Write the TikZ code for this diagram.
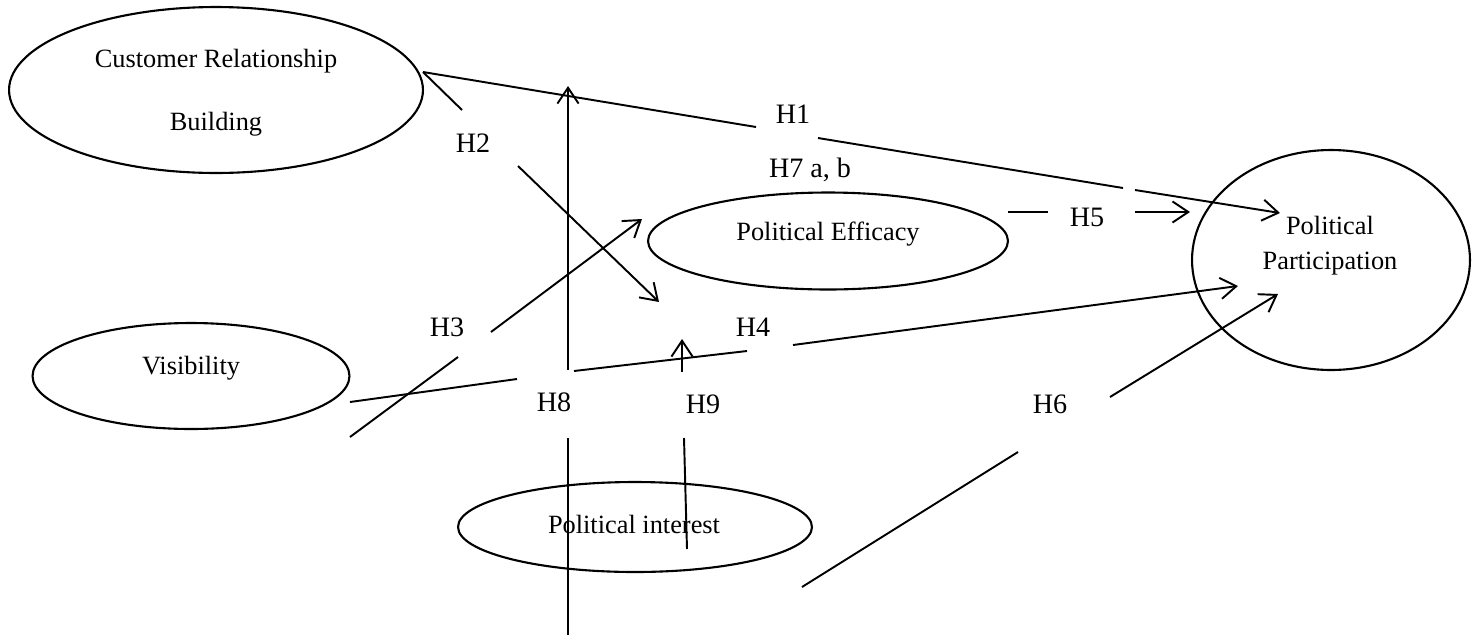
\documentclass[tikz,border=0pt]{standalone}
\usepackage{fontspec}
\setmainfont{Liberation Serif}
\usetikzlibrary{shapes.geometric,arrows.meta}
\begin{document}
\begin{tikzpicture}[x=0.02cm,y=-0.02cm,
  oval/.style={draw,ellipse,line width=1.2pt,inner sep=0pt},
  txt/.style={font=\fontsize{15}{18}\selectfont,inner sep=0pt,align=center},
  lbl/.style={font=\fontsize{16}{19}\selectfont,inner sep=0pt},
  ln/.style={line width=1.1pt},
  arr/.style={ln,-{Straight Barb[length=9pt,width=12pt,line width=1.1pt]}}]
\useasboundingbox (0,0) rectangle (1478,640);
% ellipses
\node[oval,minimum width=8.28cm,minimum height=3.32cm] (crb) at (216,90) {};
\node[txt] (crbt1) at (216,61) {Customer Relationship};
\node[txt] (crbt2) at (216,124) {Building};
\node[oval,minimum width=6.34cm,minimum height=2.12cm] (vis) at (191,376) {};
\node[txt] (vist) at (191,368) {Visibility};
\node[oval,minimum width=7.2cm,minimum height=1.94cm] (pe) at (828,241) {};
\node[txt] (pet) at (828,234) {Political Efficacy};
\node[oval,minimum width=7.08cm,minimum height=1.8cm] (pi) at (635,527) {};
\node[txt] (pit) at (634,524) {Political interest};
\node[oval,minimum width=5.56cm,minimum height=4.4cm] (pp) at (1331,260) {};
\node[txt] (ppt) at (1330,246) {Political\\[2pt]Participation};
% labels
\node[lbl] (H1) at (793,114) {H1};
\node[lbl] (H7) at (810,170) {H7 a, b};
\node[lbl] (H2) at (473,143) {H2};
\node[lbl] (H3) at (447,327) {H3};
\node[lbl] (H4) at (753,327) {H4};
\node[lbl] (H5) at (1087,217) {H5};
\node[lbl] (H6) at (1050,404) {H6};
\node[lbl] (H8) at (554,402) {H8};
\node[lbl] (H9) at (703,404) {H9};
% coordinates
\coordinate (a1) at (423,72);
\coordinate (a2) at (756,127);
\coordinate (a3) at (818,138);
\coordinate (a4) at (1123,188);
\coordinate (a5) at (1135,190);
\coordinate (a6) at (1280,213);
\coordinate (b1) at (462,110);
\coordinate (b2) at (518,166);
\coordinate (b3) at (659,302);
\coordinate (c1) at (568,370);
\coordinate (c2) at (568,86);
\coordinate (c3) at (568,438);
\coordinate (c4) at (568,635);
\coordinate (d1) at (350,437);
\coordinate (d2) at (458,357);
\coordinate (d3) at (491,332);
\coordinate (d4) at (642,219);
\coordinate (e1) at (350,402);
\coordinate (e2) at (517,379);
\coordinate (e3) at (574,371);
\coordinate (e4) at (747,351);
\coordinate (e5) at (793,345);
\coordinate (e6) at (1238,286);
\coordinate (f1) at (682,372);
\coordinate (f2) at (682,339);
\coordinate (f3) at (684,438);
\coordinate (f4) at (687,549);
\coordinate (g1) at (1008,212);
\coordinate (g2) at (1048,212);
\coordinate (g3) at (1135,212);
\coordinate (g4) at (1190,212);
\coordinate (k1) at (802,587);
\coordinate (k2) at (1018,452);
\coordinate (k3) at (1110,397);
\coordinate (k4) at (1278,294);
% H1
\draw[ln] (a1) -- (a2);
\draw[ln] (a3) -- (a4);
\draw[arr] (a5) -- (a6);
% H2
\draw[ln] (a1) -- (b1);
\draw[arr] (b2) -- (b3);
% H8
\draw[arr] (c1) -- (c2);
\draw[ln] (c3) -- (c4);
% H3
\draw[ln] (d1) -- (d2);
\draw[arr] (d3) -- (d4);
% H4
\draw[ln] (e1) -- (e2);
\draw[ln] (e3) -- (e4);
\draw[arr] (e5) -- (e6);
% H9
\draw[arr] (f1) -- (f2);
\draw[ln] (f3) -- (f4);
% H5
\draw[ln] (g1) -- (g2);
\draw[arr] (g3) -- (g4);
% H6
\draw[ln] (k1) -- (k2);
\draw[arr] (k3) -- (k4);
\end{tikzpicture}
\end{document}
